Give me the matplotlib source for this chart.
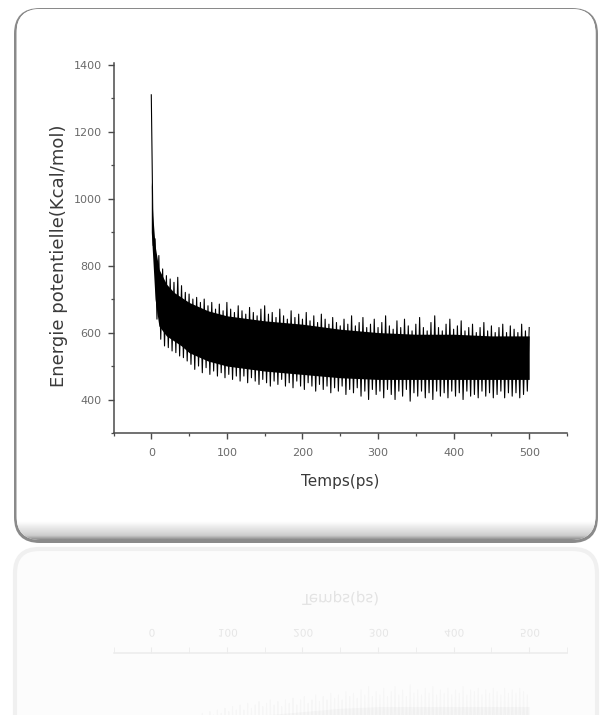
import numpy as np
import matplotlib
matplotlib.use('Agg')
import matplotlib.pyplot as plt
from matplotlib.patches import FancyBboxPatch, PathPatch
from matplotlib.textpath import TextPath
from matplotlib.transforms import Affine2D

# upper spike tips, every 5 ps from 0 to 500
up_t = np.arange(0, 501, 5)
up_v = [1310, 880, 830, 790, 770, 760, 750, 765, 740, 720,
        715, 700, 705, 690, 700, 680, 690, 670, 685, 665,
        690, 670, 660, 680, 665, 655, 675, 660, 650, 670,
        680, 655, 660, 645, 670, 650, 640, 665, 645, 655,
        640, 660, 635, 650, 630, 655, 640, 625, 645, 630,
        620, 640, 625, 650, 620, 630, 645, 615, 625, 640,
        615, 630, 650, 620, 610, 635, 615, 640, 620, 605,
        625, 645, 615, 605, 630, 650, 615, 605, 625, 640,
        610, 620, 635, 605, 615, 625, 600, 615, 630, 605,
        620, 600, 615, 625, 600, 620, 610, 600, 625, 605,
        615]
# lower spike tips, between the upper ones
lo_t = np.arange(2.5, 500, 5)
lo_v = [860, 640, 580, 560, 555, 545, 540, 530, 525, 515,
        505, 490, 500, 480, 495, 475, 485, 470, 480, 465,
        475, 460, 470, 455, 470, 450, 465, 455, 445, 460,
        450, 440, 455, 445, 460, 440, 450, 435, 455, 440,
        430, 450, 440, 425, 445, 430, 440, 420, 435, 425,
        440, 415, 430, 420, 435, 410, 425, 400, 430, 415,
        425, 405, 430, 415, 400, 425, 410, 430, 395, 420,
        410, 425, 405, 420, 400, 425, 410, 420, 405, 425,
        410, 420, 400, 425, 410, 415, 405, 425, 410, 420,
        405, 415, 425, 405, 420, 410, 420, 405, 415, 425]
# dense core of the band
core_t = [0, 2, 5, 10, 20, 30, 40, 50, 75, 100, 150, 200, 250, 300, 350, 400, 450, 500]
core_top = [1050, 950, 860, 790, 745, 720, 705, 690, 665, 650, 635, 625, 610, 600, 595, 595, 590, 590]
core_bot = [900, 820, 700, 620, 590, 575, 560, 540, 515, 500, 485, 475, 465, 460, 460, 460, 460, 460]

xticks = [0, 100, 200, 300, 400, 500]
yticks = [400, 600, 800, 1000, 1200, 1400]

zz_t = np.empty(len(up_t) + len(lo_t))
zz_v = np.empty(len(up_t) + len(lo_t))
zz_t[0::2] = up_t
zz_t[1::2] = lo_t
zz_v[0::2] = up_v
zz_v[1::2] = lo_v

W, H = 601, 715
fig = plt.figure(figsize=(W / 100, H / 100), dpi=100)
fig.patch.set_facecolor('white')

# background layer in pixel coords (y down)
bg = fig.add_axes([0, 0, 1, 1], zorder=0)

# reflected card
refl = FancyBboxPatch((15, 549), 582, 220, boxstyle="round,pad=0,rounding_size=24",
                      facecolor='#fcfcfc', edgecolor='#f0f0f0', lw=3, zorder=1)
bg.add_patch(refl)

# card with bevelled bottom
outer = FancyBboxPatch((14, 8), 584, 535, boxstyle="round,pad=0,rounding_size=26",
                       facecolor='#8a8a8a', edgecolor='none', zorder=2)
bg.add_patch(outer)
inner = FancyBboxPatch((16.5, 9), 579, 531, boxstyle="round,pad=0,rounding_size=24",
                       facecolor='white', edgecolor='none', zorder=3)
bg.add_patch(inner)
ys = np.linspace(9, 540, 500)
g = np.ones_like(ys)
m = ys > 522
g[m] = 1 - (ys[m] - 522) / 14 * 0.2
m2 = ys > 536
g[m2] = 0.8 - (ys[m2] - 536) / 4 * 0.25
img = bg.imshow(g[:, None], cmap='gray', vmin=0, vmax=1, aspect='auto',
                extent=(16.5, 595.5, 540, 9), interpolation='bilinear', zorder=4)
img.set_clip_path(inner)
bg.set_xlim(0, W)
bg.set_ylim(H, 0)
bg.axis('off')


def draw(ax, alpha, mirror=False):
    col = (0, 0, 0, alpha)
    ax.fill_between(core_t, core_bot, core_top, color=col, lw=0)
    ax.plot(zz_t, zz_v, color=col, lw=0.8)
    ax.set_xlim(-50, 550)
    if mirror:
        ax.set_ylim(1405, 300)
    else:
        ax.set_ylim(300, 1405)
    ax.set_facecolor('none')
    for s in ['top', 'right']:
        ax.spines[s].set_visible(False)
    ax.set_xticks(xticks)
    ax.set_xticks(np.arange(-50, 551, 50), minor=True)
    ax.set_yticks(yticks)
    ax.set_yticks(np.arange(300, 1401, 100), minor=True)


ax = fig.add_axes([113.5 / W, 1 - 433 / H, 453.5 / W, 370 / H], zorder=2)
draw(ax, 1.0)
for s in ['left', 'bottom']:
    ax.spines[s].set_color('#4a4a4a')
    ax.spines[s].set_linewidth(1.1)
ax.tick_params(which='major', direction='out', length=4.5, width=1, color='#4a4a4a',
               labelsize=8, labelcolor='#6a6a6a')
ax.tick_params(axis='x', which='major', pad=6)
ax.tick_params(axis='y', which='major', pad=4)
ax.tick_params(which='minor', direction='out', length=2.5, width=0.9, color='#4a4a4a')
ax.set_xlabel('Temps(ps)', fontsize=11, color='#3a3a3a')
ax.set_ylabel('Energie potentielle(Kcal/mol)', fontsize=13, color='#3a3a3a')
ax.xaxis.set_label_coords(0.5, -0.11)
ax.yaxis.set_label_coords(-0.100, 0.48)

# faint reflection below the card (mirror line at y = 543 px)
rax = fig.add_axes([113.5 / W, 1 - 1023 / H, 453.5 / W, 370 / H], zorder=1)
draw(rax, 0.022, mirror=True)
rax.spines['left'].set_visible(False)
rax.spines['bottom'].set_visible(False)
rax.spines['top'].set_visible(True)
rax.spines['top'].set_color('#ececec')
rax.spines['top'].set_linewidth(1.1)
rax.set_yticks([])
rax.set_yticks([], minor=True)
rax.xaxis.tick_top()
rax.tick_params(which='both', direction='out', length=4, color='#ececec', labeltop=False)

# upside-down copies of the x texts (path y-up drawn on y-down pixel axes)
fig.canvas.draw()
for v in xticks:
    px = ax.transData.transform((v, 300))[0]
    tp = TextPath((0, 0), str(v), size=10.5)
    bb = tp.get_extents()
    tr = Affine2D().translate(px - bb.width / 2, 629)
    bg.add_patch(PathPatch(tr.transform_path(tp), facecolor='#e6e6e6', lw=0, zorder=5))
tp = TextPath((0, 0), 'Temps(ps)', size=15)
bb = tp.get_extents()
tr = Affine2D().translate(340 - bb.width / 2, 594)
bg.add_patch(PathPatch(tr.transform_path(tp), facecolor='#e3e3e3', lw=0, zorder=5))

fig.savefig('out.png', dpi=100, facecolor='white')
